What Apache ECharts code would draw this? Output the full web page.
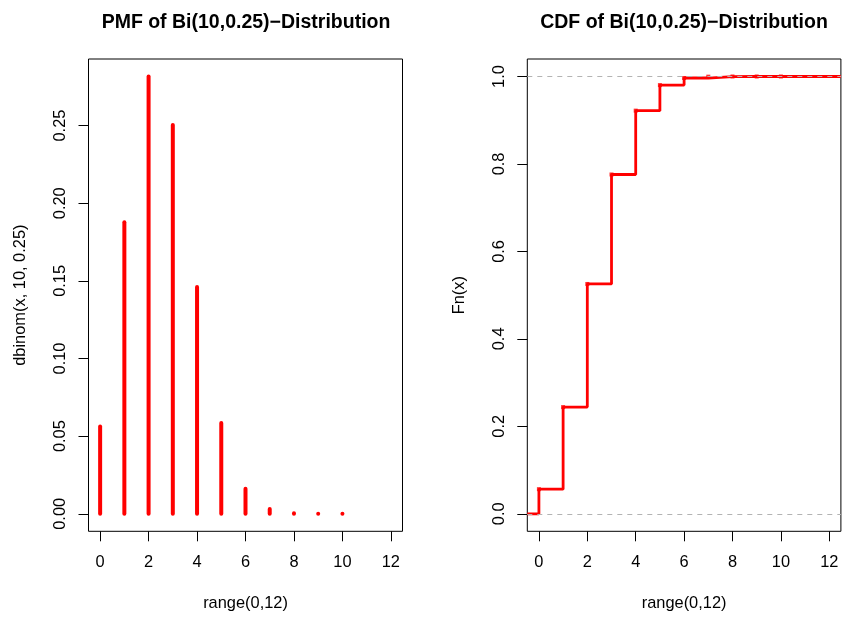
<!DOCTYPE html>
<html>
<head>
<meta charset="utf-8">
<script src="https://cdn.jsdelivr.net/npm/echarts@6/dist/echarts.min.js"></script>
<style>
  html, body { margin: 0; padding: 0; background: #fff; }
  #chart { width: 842px; height: 619px; }
</style>
</head>
<body>
<div id="chart"></div>
<script>
// values
const xs = [0, 1, 2, 3, 4, 5, 6, 7, 8, 9, 10];
const pmf = [0.0563, 0.1877, 0.2816, 0.2503, 0.1460, 0.0584, 0.0162, 0.0031, 0.0004, 0.00003, 0.000001];
const cdf = [0.0563, 0.2440, 0.5256, 0.7759, 0.9219, 0.9803, 0.9965, 0.9996, 1.0, 1.0, 1.0];
const xTicks = [0, 2, 4, 6, 8, 10, 12];
const pmfTicks = [0, 0.05, 0.10, 0.15, 0.20, 0.25];
const cdfTicks = [0, 0.2, 0.4, 0.6, 0.8, 1.0];
const refLines = [0, 1];

const FONT = '"Liberation Sans", Arial, Helvetica, sans-serif';

// R style axis limits: data range + 4% each side
function rLim(lo, hi) {
  const d = (hi - lo) * 0.04;
  return [lo - d, hi + d];
}
const xLim = rLim(0, 12);
const pmfLim = rLim(0, Math.max(...pmf));
const cdfLim = rLim(0, 1);

const stepData = [[xLim[0], 0]]
  .concat(xs.map((x, i) => [x, cdf[i]]))
  .concat([[xLim[1], cdf[cdf.length - 1]]]);

const chart = echarts.init(document.getElementById('chart'));

function xAxisOf(gridIndex) {
  return {
    type: 'value', gridIndex: gridIndex, position: 'bottom',
    min: xLim[0], max: xLim[1],
    name: 'range(0,12)', nameLocation: 'middle', nameGap: 64,
    nameTextStyle: { color: '#000', fontSize: 16.4, fontFamily: FONT },
    axisLine: { show: false, onZero: false },
    splitLine: { show: false },
    axisTick: { show: true, inside: false, length: 10, customValues: xTicks,
      lineStyle: { color: '#000', width: 1 } },
    axisLabel: { customValues: xTicks, margin: 23, color: '#000', fontSize: 16.4, fontFamily: FONT }
  };
}

function yAxisOf(gridIndex, lim, ticks, digits, name) {
  return {
    type: 'value', gridIndex: gridIndex, position: 'left',
    min: lim[0], max: lim[1],
    name: name, nameLocation: 'middle', nameGap: 60, nameRotate: 90,
    nameTextStyle: { color: '#000', fontSize: 16.4, fontFamily: FONT },
    axisLine: { show: false, onZero: false },
    splitLine: { show: false },
    axisTick: { show: true, inside: false, length: 10, customValues: ticks,
      lineStyle: { color: '#000', width: 1 } },
    axisLabel: { customValues: ticks, rotate: 90, margin: 20, color: '#000',
      fontSize: 16.4, fontFamily: FONT,
      formatter: v => v.toFixed(digits) }
  };
}

const option = {
  animation: false,
  backgroundColor: '#fff',
  title: [
    { text: 'PMF of Bi(10,0.25)\u2212Distribution', left: 241, top: 8, textAlign: 'center',
      textStyle: { fontSize: 19.5, fontWeight: 'bold', color: '#000', fontFamily: FONT } },
    { text: 'CDF of Bi(10,0.25)\u2212Distribution', left: 679, top: 8, textAlign: 'center',
      textStyle: { fontSize: 19.5, fontWeight: 'bold', color: '#000', fontFamily: FONT } }
  ],
  grid: [
    { left: 88.5, top: 59, width: 314, height: 472.3, show: true,
      borderColor: '#000', borderWidth: 1, backgroundColor: 'transparent', outerBoundsMode: 'none' },
    { left: 527.3, top: 59, width: 313.6, height: 472.3, show: true,
      borderColor: '#000', borderWidth: 1, backgroundColor: 'transparent', outerBoundsMode: 'none' }
  ],
  xAxis: [xAxisOf(0), xAxisOf(1)],
  yAxis: [
    yAxisOf(0, pmfLim, pmfTicks, 2, 'dbinom(x, 10, 0.25)'),
    yAxisOf(1, cdfLim, cdfTicks, 1, 'Fn(x)')
  ],
  series: [
    {
      // type="h" vertical lines
      type: 'custom', xAxisIndex: 0, yAxisIndex: 0,
      data: xs.map((x, i) => [x, pmf[i]]),
      encode: { x: 0, y: 1 },
      renderItem: (params, api) => {
        const top = api.coord([api.value(0), api.value(1)]);
        const base = api.coord([api.value(0), 0]);
        return {
          type: 'line',
          shape: { x1: base[0], y1: base[1], x2: top[0], y2: top[1] },
          style: { stroke: '#ff0000', lineWidth: 4, lineCap: 'round' }
        };
      }
    },
    {
      // gray dashed reference lines at 0 and 1
      type: 'line', xAxisIndex: 1, yAxisIndex: 1, data: [], z: 1,
      markLine: {
        silent: true, symbol: 'none', label: { show: false },
        lineStyle: { color: '#b3b3b3', type: [5, 5], width: 1 },
        data: refLines.map(v => ({ yAxis: v }))
      }
    },
    {
      type: 'line', xAxisIndex: 1, yAxisIndex: 1, z: 3,
      step: 'end', showSymbol: false,
      data: stepData,
      lineStyle: { color: '#ff0000', width: 2.8 }
    },
    {
      type: 'scatter', xAxisIndex: 1, yAxisIndex: 1, z: 4,
      data: xs.map((x, i) => [x, cdf[i]]),
      symbol: 'rect', symbolSize: 4,
      itemStyle: { color: '#ff0000' }
    }
  ]
};

chart.setOption(option);
</script>
</body>
</html>
